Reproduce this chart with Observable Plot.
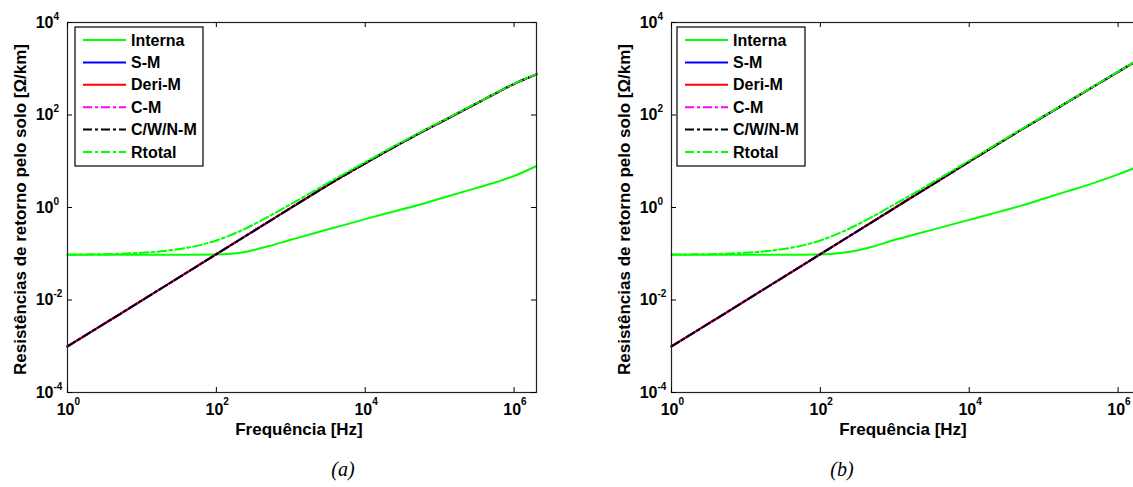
<!DOCTYPE html>
<html><head><meta charset="utf-8">
<script src="https://cdn.jsdelivr.net/npm/d3@7"></script>
<script src="https://cdn.jsdelivr.net/npm/@observablehq/plot@0.6"></script>
<style>
html,body{margin:0;padding:0;background:#fff;overflow:hidden;}
#wrap{position:relative;width:1133px;height:487px;overflow:hidden;background:#fff;}
.panel{position:absolute;top:0;}
.cap{position:absolute;width:60px;text-align:center;font-family:"Liberation Serif","Times New Roman",serif;font-style:italic;font-size:20px;line-height:20px;}
</style></head><body><div id="wrap"></div>
<script>
// ---- data ----
const freq = [1, 2, 5, 10, 20, 50, 100, 200, 500, 1e3, 2e3, 5e3, 1e4, 2e4, 5e4, 1e5, 2e5, 5e5, 1e6, 2e6];

// panel (a)
const internaA = [0.095, 0.095, 0.095, 0.095, 0.095, 0.095, 0.096, 0.104, 0.145, 0.2, 0.275, 0.41, 0.56, 0.76, 1.12, 1.55, 2.15, 3.3, 4.8, 7.9];
// S-M, Deri-M, C-M and C/W/N-M coincide in the picture
const earthA = [0.00099, 0.00198, 0.0049, 0.0098, 0.0196, 0.049, 0.098, 0.196, 0.49, 0.98, 1.95, 4.75, 9.0, 17, 38, 68, 122, 265, 470, 755];
const rtotalA = [0.096, 0.097, 0.1, 0.105, 0.115, 0.144, 0.194, 0.3, 0.635, 1.18, 2.23, 5.16, 9.56, 17.76, 39.1, 69.5, 124, 268, 475, 763];

// panel (b)
const internaB = [0.095, 0.095, 0.095, 0.095, 0.095, 0.095, 0.096, 0.105, 0.142, 0.2, 0.27, 0.4, 0.54, 0.73, 1.1, 1.55, 2.2, 3.5, 5.2, 8.0];
const earthB = [0.00099, 0.00198, 0.0049, 0.0098, 0.0196, 0.049, 0.098, 0.196, 0.49, 0.98, 1.96, 4.9, 9.8, 19.5, 48, 93, 182, 440, 860, 1650];
const rtotalB = [0.096, 0.097, 0.1, 0.105, 0.115, 0.144, 0.194, 0.301, 0.632, 1.18, 2.23, 5.3, 10.34, 20.23, 49.1, 94.6, 184, 444, 865, 1658];

const seriesNames = ["Interna", "S-M", "Deri-M", "C-M", "C/W/N-M", "Rtotal"];

const xTicks = [1, 1e2, 1e4, 1e6];
const xTickExp = ["0", "2", "4", "6"];
const yTicks = [1e-4, 1e-2, 1, 1e2, 1e4];
const yTickExp = ["-4", "-2", "0", "2", "4"];

const xLabel = "Frequência [Hz]";
const yLabel = "Resistências de retorno pelo solo [Ω/km]";
const captions = ["(a)", "(b)"];

// ---- styles ----
const seriesStyle = {
  "Interna": {stroke: "#00ff00", dash: null},
  "S-M": {stroke: "#0000ff", dash: null},
  "Deri-M": {stroke: "#ff0000", dash: null},
  "C-M": {stroke: "#ff00ff", dash: "9,3,3,3"},
  "C/W/N-M": {stroke: "#000000", dash: "9,3,3,3"},
  "Rtotal": {stroke: "#00ff00", dash: "9,3,3,3"}
};
const FONT = '"Liberation Sans", Arial, sans-serif';
const W = 570, H = 445, ML = 67, MT = 22, MB = 53, FW = 469, FH = 370;

function panel(interna, earth, rtotal, legendDx) {
  const valuesBy = {"Interna": interna, "S-M": earth, "Deri-M": earth, "C-M": earth, "C/W/N-M": earth, "Rtotal": rtotal};
  const lines = seriesNames.map(name => {
    const rows = freq.map((f, i) => ({f, v: valuesBy[name][i]}));
    const st = seriesStyle[name];
    return Plot.line(rows, {x: "f", y: "v", stroke: st.stroke, strokeWidth: 2, strokeDasharray: st.dash, curve: "monotone-x"});
  });
  const txt = {fontWeight: "bold", fill: "#000"};
  const plot = Plot.plot({
    width: W, height: H,
    marginLeft: ML, marginTop: MT, marginBottom: MB, marginRight: W - ML - FW,
    style: {fontFamily: FONT, maxWidth: "none", overflow: "visible", background: "transparent"},
    x: {type: "log", domain: [1, 2e6], axis: null},
    y: {type: "log", domain: [1e-4, 1e4], axis: null},
    marks: [
      ...lines,
      Plot.frame({stroke: "#222", strokeWidth: 1.2}),
      Plot.tickX(xTicks, {x: d => d, insetTop: FH - 5, stroke: "#000"}),
      Plot.tickX(xTicks, {x: d => d, insetBottom: FH - 5, stroke: "#000"}),
      Plot.tickY(yTicks, {y: d => d, insetRight: FW - 5, stroke: "#000"}),
      Plot.tickY(yTicks, {y: d => d, insetLeft: FW - 5, stroke: "#000"}),
      Plot.text(xTicks, {x: d => d, frameAnchor: "bottom", dy: 17, dx: 7, textAnchor: "end", lineAnchor: "middle", text: () => "10", fontSize: 16, ...txt}),
      Plot.text(xTicks, {x: d => d, frameAnchor: "bottom", dy: 9, dx: 7, textAnchor: "start", lineAnchor: "middle", text: (d, i) => xTickExp[i], fontSize: 10, ...txt}),
      Plot.text(yTicks, {y: d => d, frameAnchor: "left", dx: -14, textAnchor: "end", lineAnchor: "middle", text: () => "10", fontSize: 16, ...txt}),
      Plot.text(yTicks, {y: d => d, frameAnchor: "left", dx: -14, dy: -6, textAnchor: "start", lineAnchor: "middle", text: (d, i) => yTickExp[i], fontSize: 10, ...txt}),
      Plot.text([xLabel], {frameAnchor: "bottom", dy: 37, dx: -3, textAnchor: "middle", lineAnchor: "middle", text: d => d, fontSize: 17, ...txt}),
      Plot.text([yLabel], {frameAnchor: "left", dx: -47, dy: 2, rotate: -90, textAnchor: "middle", lineAnchor: "middle", text: d => d, fontSize: 17, ...txt})
    ]
  });
  // legend box inside the frame
  const svg = d3.select(plot);
  const g = svg.append("g").attr("transform", `translate(${ML + legendDx},${MT + 5})`);
  g.append("rect").attr("x", 0).attr("y", 0).attr("width", 128).attr("height", 139)
    .attr("fill", "#fff").attr("stroke", "#000").attr("stroke-width", 1.2);
  seriesNames.forEach((name, i) => {
    const y = 13 + i * 22.4;
    const st = seriesStyle[name];
    g.append("line").attr("x1", 8).attr("x2", 51).attr("y1", y).attr("y2", y)
      .attr("stroke", st.stroke).attr("stroke-width", 2)
      .attr("stroke-dasharray", st.dash);
    g.append("text").attr("x", 56).attr("y", y).attr("dy", "0.35em")
      .attr("text-anchor", "start")
      .attr("font-family", FONT).attr("font-weight", "bold").attr("font-size", 16)
      .attr("fill", "#000").text(name);
  });
  return plot;
}

const wrap = document.getElementById("wrap");
const pa = document.createElement("div"); pa.className = "panel"; pa.style.left = "0px";
pa.appendChild(panel(internaA, earthA, rtotalA, 8));
wrap.appendChild(pa);
const pb = document.createElement("div"); pb.className = "panel"; pb.style.left = "604px";
pb.appendChild(panel(internaB, earthB, rtotalB, 6));
wrap.appendChild(pb);

[[313, captions[0]], [812, captions[1]]].forEach(([left, t]) => {
  const c = document.createElement("div");
  c.className = "cap"; c.style.left = left + "px"; c.style.top = "459px"; c.textContent = t;
  wrap.appendChild(c);
});
</script></body></html>
